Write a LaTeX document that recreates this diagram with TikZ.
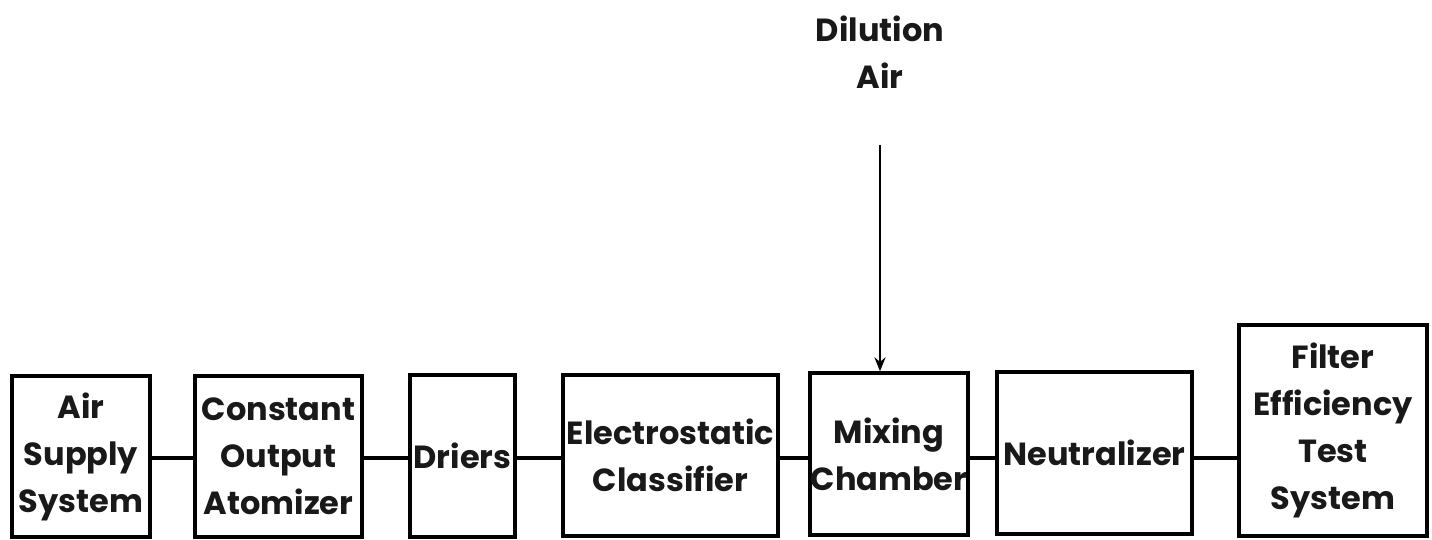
\documentclass[tikz,border=0pt]{standalone}
\usepackage{fontspec}
\setmainfont{Poppins}
\usetikzlibrary{arrows.meta}
\begin{document}
\begin{tikzpicture}[x=0.5pt,y=-0.5pt,
  txt/.style={align=center, text=black!90, font=\fontsize{16}{23.5}\selectfont\bfseries},
  box/.style={txt, draw, line width=1.6pt, inner sep=0pt},
  conn/.style={line width=1.6pt},
  flow/.style={line width=1.1pt, -{Stealth[length=7pt,width=5.5pt]}}]
\useasboundingbox (0,0) rectangle (1432,540);
\node[box, minimum width=69pt, minimum height=80.5pt] (air) at (81,456.5) {Air\\Supply\\System};
\node[box, minimum width=83.5pt, minimum height=80.5pt] (atom) at (278.5,456.5) {Constant\\Output\\Atomizer};
\node[box, minimum width=52.5pt, minimum height=81pt] (dry) at (462.5,456) {Driers};
\node[box, minimum width=107.5pt, minimum height=80.5pt] (cls) at (670.5,455.5) {Electrostatic\\Classifier};
\node[box, minimum width=79pt, minimum height=81pt] (mix) at (889,454) {Mixing\\Chamber};
\node[box, minimum width=97.5pt, minimum height=81pt] (neu) at (1094.5,453) {Neutralizer};
\node[box, minimum width=94pt, minimum height=105.5pt] (fil) at (1333,430.5) {Filter\\Efficiency\\Test\\System};
\node[txt] (dil) at (880,52) {Dilution\\Air};
\coordinate (ln) at (0,458);
\coordinate (dtop) at (880,145);
\draw[conn] (air.east |- ln) -- (atom.west |- ln);
\draw[conn] (atom.east |- ln) -- (dry.west |- ln);
\draw[conn] (dry.east |- ln) -- (cls.west |- ln);
\draw[conn] (cls.east |- ln) -- (mix.west |- ln);
\draw[conn] (mix.east |- ln) -- (neu.west |- ln);
\draw[conn] (neu.east |- ln) -- (fil.west |- ln);
\draw[flow] (dtop) -- (dtop |- mix.north);
\end{tikzpicture}
\end{document}
